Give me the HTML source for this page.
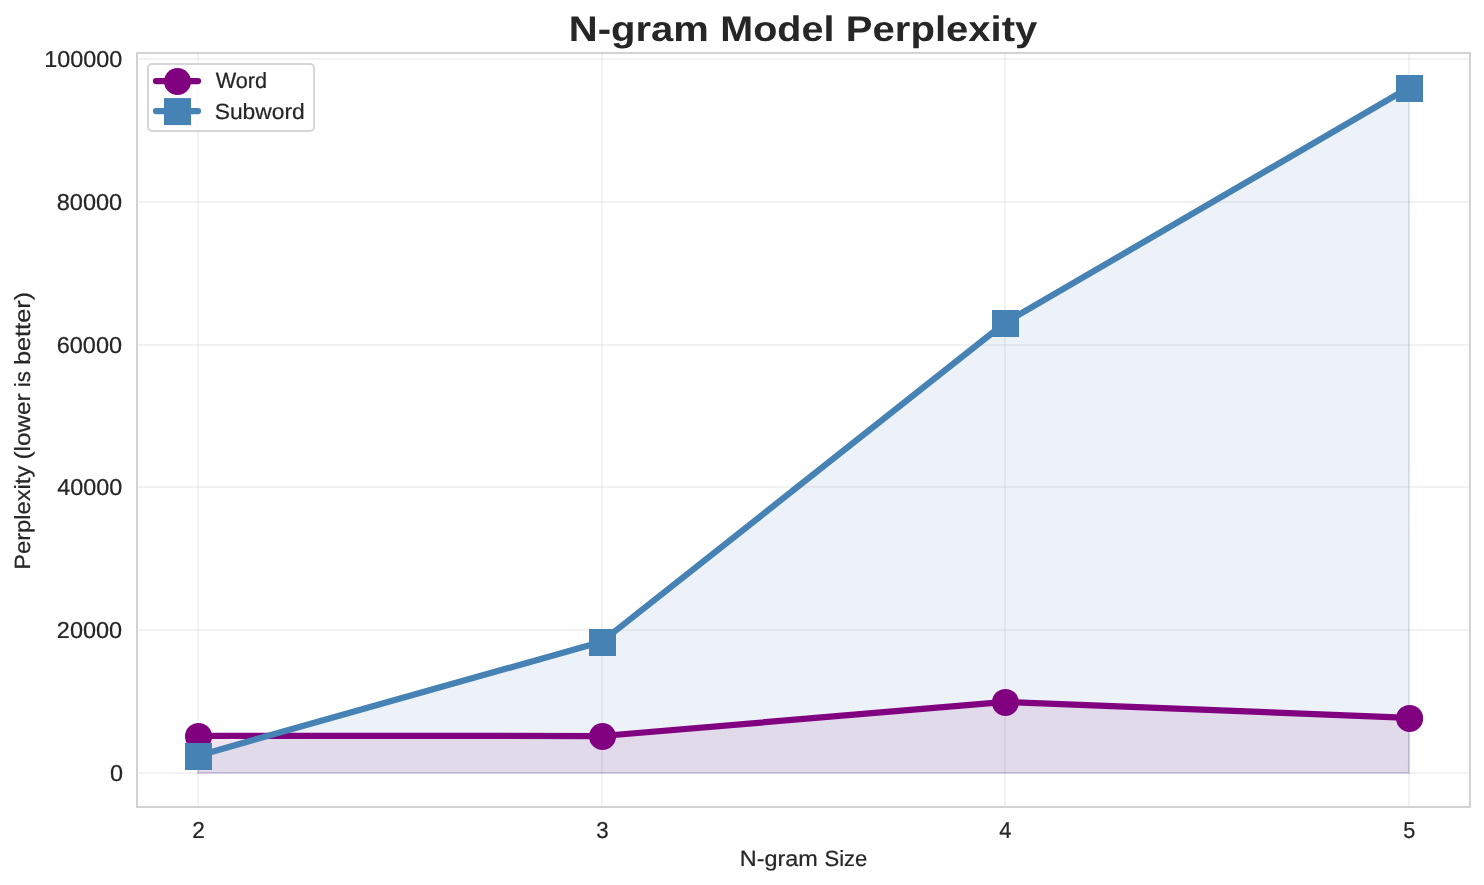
<!DOCTYPE html>
<html><head><meta charset="utf-8"><title>N-gram Model Perplexity</title>
<style>html,body{margin:0;padding:0;background:#fff;}body{width:1484px;height:885px;overflow:hidden;font-family:"Liberation Sans",sans-serif;}svg{display:block;will-change:transform;}text{font-family:"Liberation Sans",sans-serif;fill:#262626;text-rendering:geometricPrecision;}</style></head><body>
<svg width="1484" height="885" viewBox="0 0 1484 885">
<rect x="0" y="0" width="1484" height="885" fill="#ffffff"/>
<rect x="197" y="53" width="2" height="754" fill="#cccccc" fill-opacity="0.26"/>
<rect x="601" y="53" width="2" height="754" fill="#cccccc" fill-opacity="0.26"/>
<rect x="1004" y="53" width="2" height="754" fill="#cccccc" fill-opacity="0.26"/>
<rect x="1408" y="53" width="2" height="754" fill="#cccccc" fill-opacity="0.26"/>
<rect x="137" y="58" width="1333" height="2" fill="#cccccc" fill-opacity="0.26"/>
<rect x="137" y="201" width="1333" height="2" fill="#cccccc" fill-opacity="0.26"/>
<rect x="137" y="344" width="1333" height="2" fill="#cccccc" fill-opacity="0.26"/>
<rect x="137" y="486" width="1333" height="2" fill="#cccccc" fill-opacity="0.26"/>
<rect x="137" y="629" width="1333" height="2" fill="#cccccc" fill-opacity="0.26"/>
<rect x="137" y="772" width="1333" height="2" fill="#cccccc" fill-opacity="0.26"/>
<polygon points="198.10,735.80 601.77,736.00 1005.43,701.90 1409.10,717.80 1409.00,773.00 198.00,773.00" fill="#800080" fill-opacity="0.1" stroke="#800080" stroke-opacity="0.1" stroke-width="2.08" stroke-linejoin="miter"/>
<polygon points="198.10,755.65 601.77,641.65 1005.43,322.55 1409.10,87.55 1409.00,773.00 198.00,773.00" fill="#4682b4" fill-opacity="0.1" stroke="#4682b4" stroke-opacity="0.1" stroke-width="2.08" stroke-linejoin="miter"/>
<polyline points="198.10,735.80 601.77,736.00 1005.43,701.90 1409.10,717.80" fill="none" stroke="#800080" stroke-width="6.25" stroke-linejoin="round" stroke-linecap="round"/>
<circle cx="198.50" cy="736.40" r="13.5" fill="#800080"/>
<circle cx="602.50" cy="736.50" r="13.5" fill="#800080"/>
<circle cx="1005.45" cy="702.40" r="13.5" fill="#800080"/>
<circle cx="1409.60" cy="718.40" r="13.5" fill="#800080"/>
<polyline points="198.10,755.65 601.77,641.65 1005.43,322.55 1409.10,87.55" fill="none" stroke="#4682b4" stroke-width="6.25" stroke-linejoin="round" stroke-linecap="round"/>
<rect x="185" y="743" width="27" height="27" fill="#4682b4"/>
<rect x="589" y="629" width="27" height="27" fill="#4682b4"/>
<rect x="992" y="310" width="27" height="27" fill="#4682b4"/>
<rect x="1396" y="75" width="27" height="27" fill="#4682b4"/>
<rect x="136" y="52" width="1335" height="2" fill="#d2d2d2"/>
<rect x="136" y="806" width="1335" height="2" fill="#d2d2d2"/>
<rect x="136" y="52" width="2" height="756" fill="#d2d2d2"/>
<rect x="1469" y="52" width="2" height="756" fill="#d2d2d2"/>
<rect x="148" y="64" width="166" height="67" rx="4" ry="4" fill="#ffffff" fill-opacity="0.8" stroke="#cccccc" stroke-opacity="0.8" stroke-width="2"/>
<line x1="156" y1="81.0" x2="198" y2="81.0" stroke="#800080" stroke-width="6.25" stroke-linecap="round"/>
<circle cx="177.5" cy="81.5" r="13.5" fill="#800080"/>
<line x1="156" y1="111.1" x2="198" y2="111.1" stroke="#4682b4" stroke-width="6.25" stroke-linecap="round"/>
<rect x="164" y="98.1" width="27" height="27" fill="#4682b4"/>
<text id="t1" x="568.85" y="40.90" font-size="35.50" font-weight="bold" textLength="140.06" lengthAdjust="spacingAndGlyphs">N-gram</text>
<text id="t2" x="720.35" y="40.90" font-size="35.50" font-weight="bold" textLength="114.04" lengthAdjust="spacingAndGlyphs">Model</text>
<text id="t3" x="845.87" y="40.90" font-size="35.50" font-weight="bold" textLength="191.49" lengthAdjust="spacingAndGlyphs">Perplexity</text>
<text id="l1" x="215.73" y="87.80" font-size="22.00" font-weight="normal" textLength="51.45" lengthAdjust="spacingAndGlyphs" stroke="#262626" stroke-width="0.22">Word</text>
<text id="l2" x="214.70" y="118.70" font-size="22.00" font-weight="normal" textLength="90.09" lengthAdjust="spacingAndGlyphs" stroke="#262626" stroke-width="0.22">Subword</text>
<text id="y100" x="44.27" y="66.70" font-size="23.00" font-weight="normal" textLength="77.93" lengthAdjust="spacingAndGlyphs" stroke="#262626" stroke-width="0.22">100000</text>
<text id="y80" x="56.79" y="209.70" font-size="23.00" font-weight="normal" textLength="65.33" lengthAdjust="spacingAndGlyphs" stroke="#262626" stroke-width="0.22">80000</text>
<text id="y60" x="56.74" y="352.70" font-size="23.00" font-weight="normal" textLength="65.31" lengthAdjust="spacingAndGlyphs" stroke="#262626" stroke-width="0.22">60000</text>
<text id="y40" x="57.37" y="494.70" font-size="23.00" font-weight="normal" textLength="64.95" lengthAdjust="spacingAndGlyphs" stroke="#262626" stroke-width="0.22">40000</text>
<text id="y20" x="56.88" y="637.70" font-size="23.00" font-weight="normal" textLength="65.30" lengthAdjust="spacingAndGlyphs" stroke="#262626" stroke-width="0.22">20000</text>
<text id="y0" x="109.90" y="780.70" font-size="23.00" font-weight="normal" textLength="13.02" lengthAdjust="spacingAndGlyphs" stroke="#262626" stroke-width="0.22">0</text>
<text id="x2" x="192.15" y="837.90" font-size="23.00" font-weight="normal" textLength="12.56" lengthAdjust="spacingAndGlyphs" stroke="#262626" stroke-width="0.22">2</text>
<text id="x3" x="596.30" y="837.90" font-size="23.00" font-weight="normal" textLength="12.38" lengthAdjust="spacingAndGlyphs" stroke="#262626" stroke-width="0.22">3</text>
<text id="x4" x="999.36" y="837.90" font-size="23.00" font-weight="normal" textLength="12.20" lengthAdjust="spacingAndGlyphs" stroke="#262626" stroke-width="0.22">4</text>
<text id="x5" x="1403.31" y="837.90" font-size="23.00" font-weight="normal" textLength="12.05" lengthAdjust="spacingAndGlyphs" stroke="#262626" stroke-width="0.22">5</text>
<text id="xl1" x="739.79" y="865.90" font-size="22.00" font-weight="normal" textLength="77.99" lengthAdjust="spacingAndGlyphs" stroke="#262626" stroke-width="0.22">N-gram</text>
<text id="xl2" x="824.51" y="865.90" font-size="22.00" font-weight="normal" textLength="42.81" lengthAdjust="spacingAndGlyphs" stroke="#262626" stroke-width="0.22">Size</text>
<text id="yl1" transform="translate(30.30,569.87) rotate(-90)" x="0" y="0" font-size="22.00" font-weight="normal" textLength="104.16" lengthAdjust="spacingAndGlyphs" stroke="#262626" stroke-width="0.22">Perplexity</text>
<text id="yl2" transform="translate(30.30,459.46) rotate(-90)" x="0" y="0" font-size="22.00" font-weight="normal" textLength="66.03" lengthAdjust="spacingAndGlyphs" stroke="#262626" stroke-width="0.22">(lower</text>
<text id="yl3" transform="translate(30.30,387.18) rotate(-90)" x="0" y="0" font-size="22.00" font-weight="normal" textLength="16.09" lengthAdjust="spacingAndGlyphs" stroke="#262626" stroke-width="0.22">is</text>
<text id="yl4" transform="translate(30.30,365.04) rotate(-90)" x="0" y="0" font-size="22.00" font-weight="normal" textLength="73.10" lengthAdjust="spacingAndGlyphs" stroke="#262626" stroke-width="0.22">better)</text>
</svg></body></html>
